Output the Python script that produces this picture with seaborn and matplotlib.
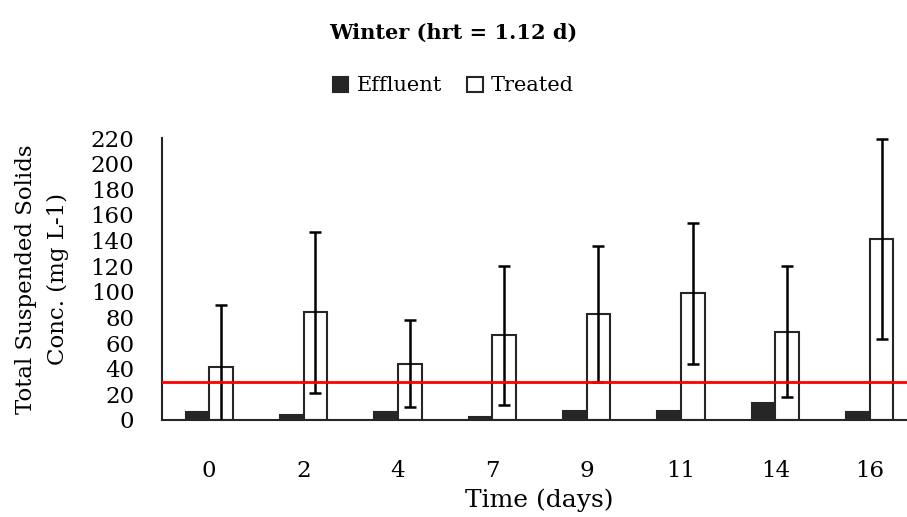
import matplotlib
matplotlib.use("Agg")
import matplotlib.pyplot as plt
import seaborn as sns
import pandas as pd
import numpy as np
from matplotlib.patches import Patch

days = ["0", "2", "4", "7", "9", "11", "14", "16"]
effluent = [6, 4, 6, 2, 7, 7, 13, 6]
treated = [41, 84, 44, 66, 83, 99, 69, 141]
treated_err = [49, 63, 34, 54, 53, 55, 51, 78]
limit = 30
series = ["Effluent", "Treated"]

df = pd.DataFrame({
    "Time": days * 2,
    "Value": effluent + treated,
    "Series": [series[0]] * len(days) + [series[1]] * len(days),
})

sns.set_theme(style="white")
plt.rcParams["font.family"] = ["DejaVu Serif"]
plt.rcParams["text.color"] = "black"
plt.rcParams["axes.labelcolor"] = "black"
plt.rcParams["xtick.color"] = "black"
plt.rcParams["ytick.color"] = "black"

fig = plt.figure(figsize=(9.07, 5.17), dpi=100)
ax = fig.add_axes([162 / 907, 1 - 420 / 517, 755 / 907, 282 / 517])

dark = "#262626"
sns.barplot(data=df, x="Time", y="Value", hue="Series", order=days,
            hue_order=series, palette={"Effluent": dark, "Treated": "white"},
            width=0.5, ax=ax, legend=False, edgecolor=dark, linewidth=1.5,
            saturation=1)

# error bars on treated bars
tb = ax.containers[1]
xs = [p.get_x() + p.get_width() / 2 for p in tb]
ax.errorbar(xs, treated, yerr=treated_err, fmt="none", ecolor="black",
            elinewidth=1.8, capsize=4, capthick=1.8, zorder=5)

ax.axhline(limit, color="#ff0000", lw=2, zorder=6)

ax.set_ylim(0, 220)
ax.set_xlim(-0.5, 7.5)
ax.set_yticks(range(0, 221, 20))
ax.tick_params(axis="y", direction="in", length=7, width=1.5, color=dark,
               labelsize=16.5, pad=20)
ax.tick_params(axis="x", length=0, labelsize=16.5, pad=29)
for s in ["top", "right"]:
    ax.spines[s].set_visible(False)
for s in ["left", "bottom"]:
    ax.spines[s].set_color(dark)
    ax.spines[s].set_linewidth(1.5)

ax.set_xlabel("Time (days)", fontsize=18, va="center")
ax.xaxis.set_label_coords(0.5, (420 - 500) / 282)
ax.set_ylabel("Total Suspended Solids\nConc. (mg L-1)", fontsize=16.5,
              linespacing=1.6, va="center")
ax.yaxis.set_label_coords((42 - 162) / 755, 0.5)

fig.suptitle("Winter (hrt = 1.12 d)", fontsize=15, fontweight="bold",
             y=1 - 33 / 517, va="center")

handles = [Patch(facecolor=dark, edgecolor=dark, lw=1.5),
           Patch(facecolor="white", edgecolor=dark, lw=1.5)]
fig.legend(handles, series, loc="center", bbox_to_anchor=(0.5, 1 - 86 / 517),
           ncol=2, frameon=False, fontsize=15, handlelength=0.75,
           handleheight=0.75, handletextpad=0.4, columnspacing=1.2)

fig.savefig("out.png", dpi=100)
